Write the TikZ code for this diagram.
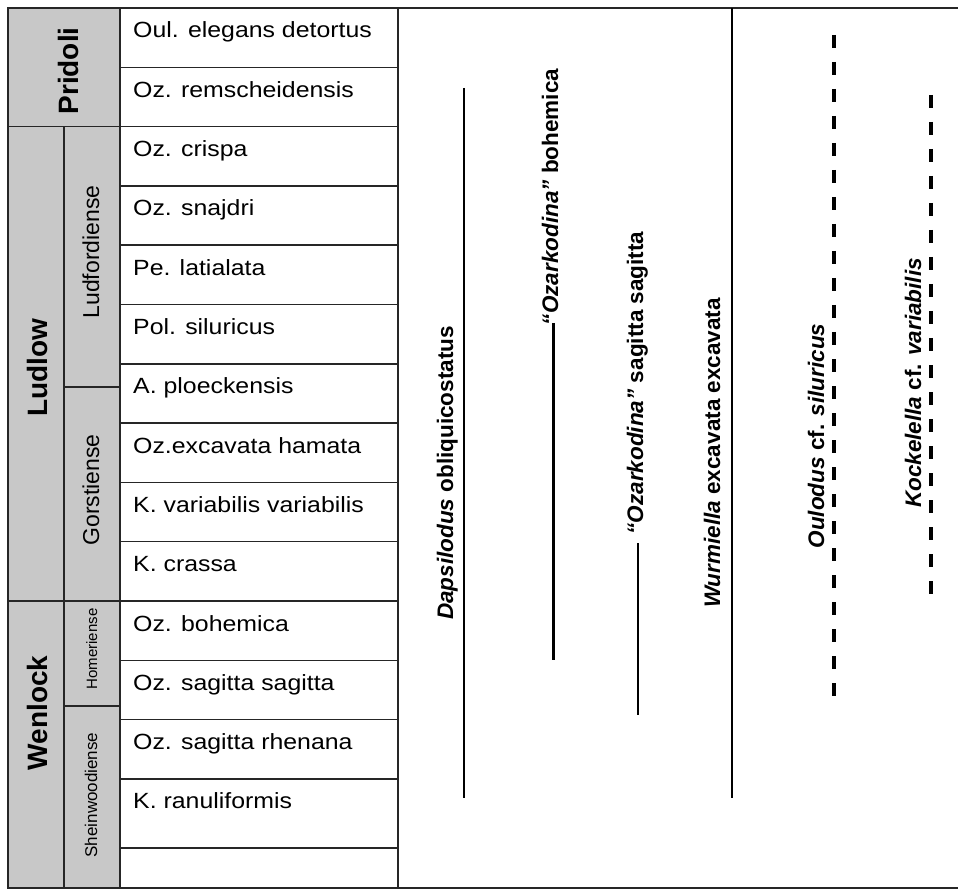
\documentclass[tikz,border=0pt]{standalone}
\usepackage{fontspec}
\setmainfont{Liberation Sans}
\definecolor{zonagrigia}{RGB}{200,200,200}

\begin{document}
\begin{tikzpicture}[
    x=1pt, y=-1pt,
    cella/.style={fill=zonagrigia, draw=black!85, line width=1.5pt},
    griglia/.style={draw=black!85, line width=1.5pt},
    era/.style={rotate=90, anchor=base, inner sep=0pt,
        font=\fontsize{28}{28}\selectfont\bfseries},
    piano/.style={rotate=90, anchor=base, inner sep=0pt,
        font=\fontsize{23}{23}\selectfont},
    biozona/.style={anchor=base west, inner sep=0pt, xscale=1.13,
        font=\fontsize{22}{22}\selectfont},
    taxon/.style={rotate=90, anchor=base, inner sep=0pt,
        font=\fontsize{22.5}{22.5}\selectfont\bfseries},
    distrib/.style={line width=2.6pt},
    distribincerta/.style={line width=3.6pt, dash pattern=on 13pt off 14pt},
]
\useasboundingbox (0,0) rectangle (958,890);

% Colonne grigie (serie e piani)
\draw[cella] (8,8)   rectangle (120,126.6);
\draw[cella] (8,126.6) rectangle (64,601);
\draw[cella] (8,601) rectangle (64,888);
\draw[cella] (64,126.6) rectangle (120,387);
\draw[cella] (64,387) rectangle (120,601);
\draw[cella] (64,601) rectangle (120,706);
\draw[cella] (64,706) rectangle (120,888);

% Griglia delle biozone
\draw[griglia] (120,67.3)  -- (398,67.3)
               (120,126.6) -- (398,126.6)
               (120,185.9) -- (398,185.9)
               (120,245.2) -- (398,245.2)
               (120,304.5) -- (398,304.5)
               (120,363.8) -- (398,363.8)
               (120,423.1) -- (398,423.1)
               (120,482.4) -- (398,482.4)
               (120,541.7) -- (398,541.7)
               (120,601)   -- (398,601)
               (120,660.3) -- (398,660.3)
               (120,719.6) -- (398,719.6)
               (120,778.9) -- (398,778.9)
               (120,848)   -- (398,848);

% Cornice
\draw[griglia] (8,8) -- (958,8);
\draw[griglia] (8,888) -- (958,888);
\draw[griglia] (398,8) -- (398,888);

% Serie
\node[era] (pridoli) at (78,71)  {Pridoli};
\node[era] (ludlow)  at (47,368) {Ludlow};
\node[era] (wenlock) at (47,713) {Wenlock};

% Piani
\node[piano] (ludfordiense) at (99,252) {Ludfordiense};
\node[piano] (gorstiense)   at (99,490) {Gorstiense};
\node[piano, font=\fontsize{15}{15}\selectfont] (homeriense) at (97,649) {Homeriense};
\node[piano, font=\fontsize{17}{17}\selectfont] (sheinwoodiense) at (97,795) {Sheinwoodiense};

% Biozone
\node[biozona] (oul)       at (133,38)    {Oul. elegans detortus};
\node[biozona] (rem)       at (133,97.3)  {Oz. remscheidensis};
\node[biozona] (crispa)    at (133,156.6) {Oz. crispa};
\node[biozona] (snajdri)   at (133,215.9) {Oz. snajdri};
\node[biozona] (latialata) at (133,275.2) {Pe. latialata};
\node[biozona] (pol)       at (133,334.5) {Pol. siluricus};
\node[biozona] (ploeck)    at (133,393.8) {A. ploeckensis};
\node[biozona] (hamata)    at (133,453.1) {Oz.excavata hamata};
\node[biozona] (varvar)    at (133,512.4) {K. variabilis variabilis};
\node[biozona] (crassa)    at (133,571.7) {K. crassa};
\node[biozona] (bohemica)  at (133,631)   {Oz. bohemica};
\node[biozona] (sagsag)    at (133,690.3) {Oz. sagitta sagitta};
\node[biozona] (rhenana)   at (133,749.6) {Oz. sagitta rhenana};
\node[biozona] (ranuli)    at (133,808.9) {K. ranuliformis};

% Taxa
\node[taxon] (dap) at (453,473) {\itshape Dapsilodus\upshape\ obliquicostatus};
\node[taxon] (ozb) at (558,197) {\itshape “Ozarkodina”\upshape\ bohemica};
\node[taxon] (ozs) at (643,383) {\itshape “Ozarkodina”\upshape\ sagitta sagitta};
\node[taxon] (wur) at (720,453) {\itshape Wurmiella\upshape\ excavata excavata};
\node[taxon] (oulo) at (824,436) {\itshape Oulodus\upshape\ cf. \itshape siluricus};
\node[taxon] (koc) at (921,383) {\itshape Kockelella\upshape\ cf. \itshape variabilis};

% Distribuzioni
\coordinate (dap-a) at (464,88);
\coordinate (dap-b) at (464,798);
\coordinate (ozb-a) at (553.6,323);
\coordinate (ozb-b) at (553.6,660);
\coordinate (ozs-a) at (638,543);
\coordinate (ozs-b) at (638,715);
\coordinate (wur-a) at (732,8);
\coordinate (wur-b) at (732,798);
\coordinate (oulo-a) at (834,35);
\coordinate (oulo-b) at (834,697);
\coordinate (koc-a) at (931,95);
\coordinate (koc-b) at (931,595);

\draw[distrib] (dap-a) -- (dap-b);
\draw[distrib] (ozb-a) -- (ozb-b);
\draw[distrib] (ozs-a) -- (ozs-b);
\draw[distrib] (wur-a) -- (wur-b);
\draw[distribincerta] (oulo-a) -- (oulo-b);
\draw[distribincerta] (koc-a) -- (koc-b);
\end{tikzpicture}
\end{document}
